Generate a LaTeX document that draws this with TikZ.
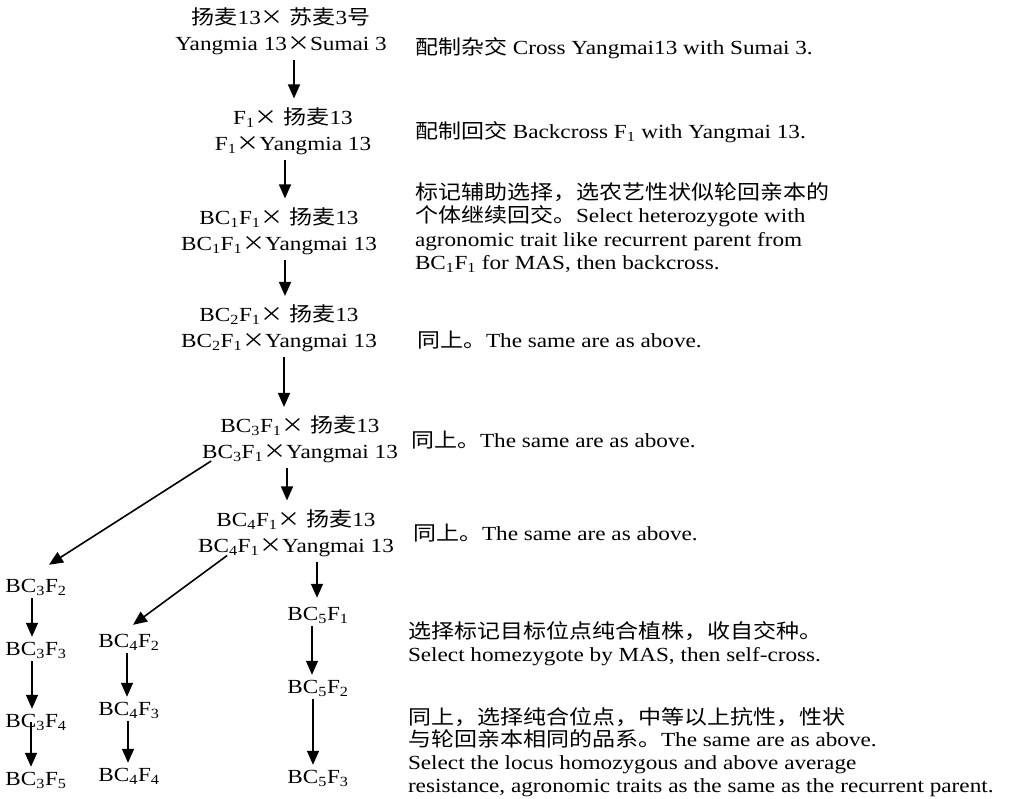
\documentclass[tikz,border=0pt]{standalone}
\usepackage{fontspec}
\setmainfont{Liberation Serif}[FakeStretch=1.16]
\newfontfamily\cjk{Noto Sans CJK SC}[FakeStretch=1.15]
\usetikzlibrary{arrows.meta}
\newcommand{\C}[1]{{\cjk #1}}
\newcommand{\X}{{\cjk ×}}
\newcommand{\sbs}[1]{\textsubscript{#1}}
\begin{document}
\begin{tikzpicture}[x=1pt,y=-1pt,
  every node/.style={inner sep=0pt,outer sep=0pt,font=\fontsize{20}{26}\selectfont},
  mainnode/.style={align=center},
  sidetext/.style={align=left,anchor=west,font=\fontsize{20}{23.5}\selectfont},
  gen/.style={},
  arr/.style={line width=1.6pt,-{Triangle[width=12pt,length=14pt]}},
  marr/.style={arr,shorten <=5pt,shorten >=9pt},
  garr/.style={arr,shorten <=3pt,shorten >=5pt}]
\useasboundingbox (0,0) rectangle (1011,799);
% main column
\node[mainnode] (n1) at (281,31.5) {\C{扬麦}13\X\ \C{苏麦}3\C{号}\\Yangmia 13\X Sumai 3};
\node[mainnode] (n2) at (293,131) {F\sbs{1}\X\ \C{扬麦}13\\F\sbs{1}\X Yangmia 13};
\node[mainnode] (n3) at (279,231) {BC\sbs{1}F\sbs{1}\X\ \C{扬麦}13\\BC\sbs{1}F\sbs{1}\X Yangmai 13};
\node[mainnode] (n4) at (279,328.5) {BC\sbs{2}F\sbs{1}\X\ \C{扬麦}13\\BC\sbs{2}F\sbs{1}\X Yangmai 13};
\node[mainnode] (n5) at (300,439.5) {BC\sbs{3}F\sbs{1}\X\ \C{扬麦}13\\BC\sbs{3}F\sbs{1}\X Yangmai 13};
\node[mainnode] (n6) at (296,533) {BC\sbs{4}F\sbs{1}\X\ \C{扬麦}13\\BC\sbs{4}F\sbs{1}\X Yangmai 13};
% generations
\node[gen] (b32) at (36,587) {BC\sbs{3}F\sbs{2}};
\node[gen] (b33) at (36,650) {BC\sbs{3}F\sbs{3}};
\node[gen] (b34) at (36,722) {BC\sbs{3}F\sbs{4}};
\node[gen] (b35) at (36,780) {BC\sbs{3}F\sbs{5}};
\node[gen] (b42) at (129,642) {BC\sbs{4}F\sbs{2}};
\node[gen] (b43) at (129,710) {BC\sbs{4}F\sbs{3}};
\node[gen] (b44) at (129,776) {BC\sbs{4}F\sbs{4}};
\node[gen] (b51) at (318,615) {BC\sbs{5}F\sbs{1}};
\node[gen] (b52) at (318,688) {BC\sbs{5}F\sbs{2}};
\node[gen] (b53) at (318,778) {BC\sbs{5}F\sbs{3}};
% side texts
\node[sidetext] (t1) at (415,48) {\C{配制杂交} Cross Yangmai13 with Sumai 3.};
\node[sidetext] (t2) at (415,132) {\C{配制回交} Backcross F\sbs{1} with Yangmai 13.};
\node[sidetext] (t3) at (415,227.5) {\C{标记辅助选择，选农艺性状似轮回亲本的}\\\C{个体继续回交。}Select heterozygote with\\agronomic trait like recurrent parent from\\BC\sbs{1}F\sbs{1} for MAS, then backcross.};
\node[sidetext] (t4) at (417,340) {\C{同上。}The same are as above.};
\node[sidetext] (t5) at (411,440) {\C{同上。}The same are as above.};
\node[sidetext] (t6) at (413,533) {\C{同上。}The same are as above.};
\node[sidetext] (t7) at (408,643.5) {\C{选择标记目标位点纯合植株，收自交种。}\\Select homezygote by MAS, then self-cross.};
\node[sidetext,font=\fontsize{20}{22.7}\selectfont] (t8) at (408,752) {\C{同上，选择纯合位点，中等以上抗性，性状}\\\C{与轮回亲本相同的品系。}The same are as above.\\Select the locus homozygous and above average\\resistance, agronomic traits as the same as the recurrent parent.};
% arrows
\draw[marr] (n1.south -| 294,0) -- (n2.north -| 294,0);
\draw[marr] (n2.south -| 285,0) -- (n3.north -| 285,0);
\draw[marr] (n3.south -| 285,0) -- (n4.north -| 285,0);
\draw[marr] (n4.south -| 284,0) -- (n5.north -| 284,0);
\draw[marr] (n5.south -| 287,0) -- (n6.north -| 287,0);
\draw[marr] (n6.south -| 317,0) -- (b51.north -| 317,0);
\draw[garr] (b51.south -| 312,0) -- (b52.north -| 312,0);
\draw[garr] (b52.south -| 313,0) -- (b53.north -| 313,0);
\draw[garr] (b32.south -| 32,0) -- (b33.north -| 32,0);
\draw[garr] (b33.south -| 32,0) -- (b34.north -| 32,0);
\draw[arr,shorten >=5pt] (b34.center -| 31,0) -- (b35.north -| 31,0);
\draw[garr] (b42.south -| 127,0) -- (b43.north -| 127,0);
\draw[garr] (b43.south -| 128,0) -- (b44.north -| 128,0);
\draw[arr] ([xshift=9pt,yshift=2pt]n5.south west) -- ([xshift=13pt,yshift=14pt]b32.north);
\draw[arr] ([xshift=29pt,yshift=1pt]n6.south west) -- ([xshift=4pt,yshift=9pt]b42.north);
\end{tikzpicture}
\end{document}
